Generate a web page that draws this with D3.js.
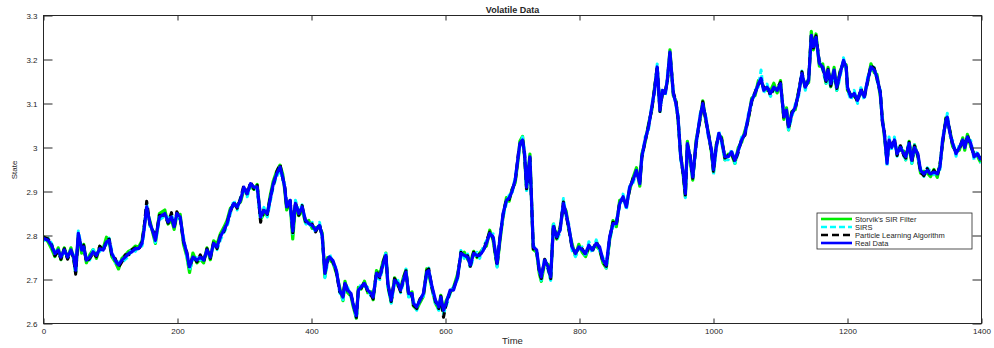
<!DOCTYPE html>
<html>
<head>
<meta charset="utf-8">
<script src="https://cdn.jsdelivr.net/npm/d3@7"></script>
<style>
  body { margin: 0; background: #fff; }
  text { font-family: 'Liberation Sans', Arial, sans-serif; fill: #262626; }
</style>
</head>
<body>
<div id="chart"></div>
<script>
// time steps (denser where the curve moves fast)
const time = [
  0, 7, 12, 17, 22, 26, 31, 36, 41, 45,
  48, 52, 57, 60, 64, 69, 74, 79, 84, 89,
  94, 98, 102, 107, 112, 117, 122, 127, 132, 137,
  142, 147, 150, 154, 159, 164, 167, 173, 181, 186,
  191, 195, 199, 204, 209, 214, 218, 223, 229, 234,
  239, 244, 249, 254, 259, 264, 269, 274, 279, 284,
  289, 294, 299, 304, 309, 314, 319, 324, 329, 334,
  338, 343, 348, 353, 357, 360, 363, 368, 372, 376,
  381, 386, 391, 396, 401, 406, 412, 416, 420, 424,
  427, 432, 437, 442, 447, 450, 454, 459, 462, 467,
  470, 474, 479, 484, 489, 492, 497, 502, 507, 511,
  514, 519, 524, 529, 533, 537, 541, 545, 550, 552,
  557, 562, 567, 572, 575, 580, 585, 590, 593, 597,
  601, 607, 612, 618, 623, 628, 633, 637, 642, 647,
  651, 656, 661, 666, 671, 677, 681, 686, 691, 695,
  699, 704, 709, 711, 715, 718, 721, 726, 731, 736,
  740, 743, 748, 753, 757, 761, 766, 771, 776, 780,
  784, 789, 794, 799, 804, 809, 814, 819, 825, 830,
  835, 840, 845, 850, 855, 860, 865, 870, 875, 880,
  885, 890, 893, 898, 903, 908, 912, 916, 920, 924,
  928, 931, 935, 940, 944, 947, 951, 955, 958, 961,
  965, 969, 974, 980, 984, 989, 992, 997, 1000, 1004,
  1008, 1012, 1017, 1022, 1027, 1032, 1037, 1042, 1047, 1052,
  1057, 1062, 1067, 1071, 1075, 1080, 1085, 1090, 1095, 1100,
  1105, 1109, 1112, 1117, 1122, 1127, 1132, 1137, 1142, 1146,
  1149, 1153, 1158, 1163, 1168, 1171, 1175, 1180, 1184, 1189,
  1194, 1198, 1200, 1205, 1210, 1215, 1220, 1225, 1230, 1235,
  1240, 1244, 1249, 1252, 1255, 1259, 1262, 1266, 1270, 1274,
  1279, 1284, 1287, 1292, 1296, 1300, 1305, 1309, 1314, 1319,
  1324, 1329, 1334, 1338, 1342, 1347, 1349, 1353, 1357, 1362,
  1367, 1372, 1375, 1379, 1384, 1389, 1394, 1399
];

const realData = [
  2.793, 2.789, 2.777, 2.759, 2.767, 2.751, 2.767, 2.751, 2.767, 2.751,
  2.721, 2.805, 2.767, 2.774, 2.744, 2.751, 2.763, 2.755, 2.770, 2.767,
  2.785, 2.789, 2.759, 2.744, 2.733, 2.744, 2.751, 2.759, 2.763, 2.770,
  2.770, 2.782, 2.812, 2.865, 2.827, 2.805, 2.789, 2.842, 2.850, 2.831,
  2.842, 2.820, 2.850, 2.842, 2.789, 2.759, 2.729, 2.751, 2.744, 2.751,
  2.744, 2.767, 2.751, 2.782, 2.774, 2.797, 2.812, 2.827, 2.857, 2.873,
  2.865, 2.880, 2.910, 2.895, 2.918, 2.910, 2.910, 2.842, 2.857, 2.850,
  2.880, 2.918, 2.940, 2.956, 2.933, 2.910, 2.865, 2.880, 2.810, 2.873,
  2.850, 2.865, 2.835, 2.827, 2.823, 2.812, 2.823, 2.800, 2.714, 2.745,
  2.751, 2.743, 2.721, 2.676, 2.660, 2.691, 2.676, 2.668, 2.645, 2.618,
  2.676, 2.683, 2.691, 2.676, 2.668, 2.660, 2.714, 2.707, 2.736, 2.755,
  2.691, 2.653, 2.698, 2.691, 2.676, 2.698, 2.717, 2.668, 2.668, 2.646,
  2.638, 2.653, 2.668, 2.717, 2.720, 2.683, 2.653, 2.638, 2.660, 2.630,
  2.646, 2.676, 2.676, 2.706, 2.759, 2.755, 2.751, 2.733, 2.759, 2.755,
  2.755, 2.765, 2.782, 2.805, 2.797, 2.736, 2.790, 2.850, 2.880, 2.885,
  2.899, 2.926, 2.986, 3.009, 3.017, 2.986, 2.910, 2.979, 2.774, 2.767,
  2.721, 2.706, 2.744, 2.729, 2.706, 2.820, 2.797, 2.812, 2.873, 2.850,
  2.820, 2.774, 2.759, 2.774, 2.767, 2.759, 2.778, 2.767, 2.782, 2.774,
  2.744, 2.733, 2.797, 2.827, 2.827, 2.873, 2.888, 2.865, 2.910, 2.926,
  2.948, 2.918, 2.979, 3.017, 3.047, 3.092, 3.130, 3.183, 3.085, 3.130,
  3.123, 3.153, 3.217, 3.123, 3.100, 3.070, 2.979, 2.940, 2.895, 3.009,
  2.979, 2.933, 3.010, 3.070, 3.100, 3.062, 3.032, 2.994, 2.950, 3.000,
  3.032, 3.017, 2.979, 2.979, 2.990, 2.971, 2.994, 3.017, 3.032, 3.070,
  3.107, 3.123, 3.145, 3.157, 3.130, 3.137, 3.123, 3.137, 3.130, 3.145,
  3.070, 3.085, 3.047, 3.077, 3.092, 3.123, 3.168, 3.137, 3.153, 3.255,
  3.229, 3.250, 3.191, 3.183, 3.153, 3.176, 3.145, 3.176, 3.137, 3.168,
  3.198, 3.183, 3.137, 3.115, 3.123, 3.107, 3.130, 3.115, 3.153, 3.183,
  3.176, 3.160, 3.123, 3.062, 3.032, 2.964, 3.017, 3.000, 3.017, 2.986,
  3.000, 2.986, 2.979, 3.009, 2.971, 3.000, 2.986, 2.948, 2.940, 2.948,
  2.940, 2.944, 2.940, 2.956, 3.017, 3.062, 3.069, 3.032, 3.009, 2.986,
  3.000, 3.017, 3.000, 3.024, 3.009, 2.979, 2.986, 2.971
];

const storvik = [
  2.798, 2.785, 2.770, 2.752, 2.772, 2.745, 2.772, 2.748, 2.772, 2.746,
  2.716, 2.800, 2.760, 2.780, 2.738, 2.756, 2.768, 2.748, 2.775, 2.770,
  2.796, 2.786, 2.752, 2.740, 2.724, 2.748, 2.755, 2.764, 2.768, 2.776,
  2.774, 2.788, 2.818, 2.858, 2.832, 2.800, 2.782, 2.850, 2.858, 2.826,
  2.836, 2.814, 2.846, 2.848, 2.780, 2.752, 2.716, 2.760, 2.738, 2.746,
  2.738, 2.772, 2.745, 2.788, 2.780, 2.804, 2.818, 2.834, 2.862, 2.868,
  2.870, 2.876, 2.904, 2.900, 2.912, 2.905, 2.916, 2.836, 2.850, 2.846,
  2.888, 2.924, 2.946, 2.960, 2.940, 2.904, 2.858, 2.876, 2.792, 2.868,
  2.845, 2.858, 2.830, 2.834, 2.816, 2.818, 2.818, 2.806, 2.706, 2.750,
  2.745, 2.738, 2.715, 2.682, 2.652, 2.696, 2.670, 2.662, 2.640, 2.612,
  2.682, 2.678, 2.696, 2.670, 2.672, 2.654, 2.720, 2.712, 2.742, 2.760,
  2.685, 2.648, 2.704, 2.686, 2.680, 2.704, 2.722, 2.662, 2.672, 2.640,
  2.632, 2.648, 2.662, 2.724, 2.712, 2.678, 2.646, 2.632, 2.664, 2.626,
  2.652, 2.670, 2.682, 2.712, 2.754, 2.762, 2.746, 2.738, 2.764, 2.750,
  2.760, 2.770, 2.776, 2.812, 2.790, 2.730, 2.784, 2.845, 2.886, 2.878,
  2.904, 2.920, 2.980, 3.014, 3.025, 2.980, 2.904, 2.985, 2.768, 2.762,
  2.714, 2.696, 2.738, 2.734, 2.700, 2.826, 2.792, 2.818, 2.866, 2.856,
  2.814, 2.780, 2.754, 2.780, 2.762, 2.752, 2.772, 2.772, 2.776, 2.768,
  2.738, 2.726, 2.790, 2.834, 2.820, 2.880, 2.882, 2.872, 2.904, 2.932,
  2.954, 2.912, 2.985, 3.012, 3.053, 3.086, 3.136, 3.178, 3.092, 3.124,
  3.130, 3.148, 3.222, 3.118, 3.106, 3.064, 2.985, 2.934, 2.888, 3.014,
  2.972, 2.926, 3.016, 3.064, 3.106, 3.056, 3.038, 2.988, 2.944, 3.006,
  3.026, 3.024, 2.972, 2.985, 2.984, 2.964, 3.000, 3.012, 3.038, 3.064,
  3.112, 3.118, 3.152, 3.150, 3.136, 3.130, 3.128, 3.146, 3.124, 3.152,
  3.064, 3.090, 3.040, 3.082, 3.086, 3.128, 3.162, 3.142, 3.148, 3.264,
  3.222, 3.258, 3.185, 3.190, 3.146, 3.182, 3.138, 3.182, 3.130, 3.174,
  3.192, 3.188, 3.130, 3.120, 3.116, 3.112, 3.124, 3.120, 3.148, 3.190,
  3.170, 3.166, 3.116, 3.068, 3.026, 2.970, 3.010, 3.006, 3.010, 2.992,
  2.994, 2.992, 2.972, 3.014, 2.964, 3.006, 2.980, 2.942, 2.946, 2.942,
  2.934, 2.950, 2.932, 2.962, 3.010, 3.068, 3.062, 3.038, 3.002, 2.992,
  2.994, 3.022, 2.994, 3.030, 3.002, 2.985, 2.980, 2.965
];

const sirs = [
  2.788, 2.794, 2.782, 2.764, 2.760, 2.756, 2.760, 2.756, 2.760, 2.756,
  2.712, 2.810, 2.772, 2.766, 2.750, 2.744, 2.768, 2.760, 2.764, 2.774,
  2.780, 2.794, 2.764, 2.738, 2.740, 2.738, 2.746, 2.752, 2.770, 2.764,
  2.776, 2.776, 2.806, 2.872, 2.820, 2.810, 2.784, 2.836, 2.844, 2.838,
  2.848, 2.826, 2.842, 2.836, 2.796, 2.752, 2.722, 2.744, 2.750, 2.744,
  2.750, 2.760, 2.758, 2.776, 2.768, 2.790, 2.806, 2.820, 2.850, 2.880,
  2.858, 2.886, 2.902, 2.888, 2.912, 2.916, 2.902, 2.836, 2.864, 2.842,
  2.874, 2.912, 2.934, 2.950, 2.926, 2.916, 2.872, 2.874, 2.804, 2.880,
  2.856, 2.870, 2.828, 2.820, 2.830, 2.806, 2.830, 2.794, 2.704, 2.738,
  2.758, 2.736, 2.726, 2.670, 2.654, 2.684, 2.682, 2.660, 2.652, 2.610,
  2.670, 2.690, 2.684, 2.682, 2.660, 2.666, 2.706, 2.700, 2.730, 2.762,
  2.684, 2.646, 2.692, 2.698, 2.670, 2.692, 2.724, 2.660, 2.662, 2.652,
  2.630, 2.660, 2.662, 2.710, 2.726, 2.676, 2.646, 2.630, 2.654, 2.622,
  2.640, 2.668, 2.684, 2.700, 2.766, 2.748, 2.758, 2.726, 2.752, 2.762,
  2.748, 2.772, 2.788, 2.798, 2.804, 2.728, 2.796, 2.842, 2.874, 2.892,
  2.892, 2.932, 2.980, 3.002, 3.024, 2.992, 2.902, 2.972, 2.780, 2.760,
  2.728, 2.698, 2.750, 2.722, 2.698, 2.830, 2.790, 2.806, 2.884, 2.844,
  2.826, 2.766, 2.752, 2.768, 2.774, 2.752, 2.786, 2.760, 2.790, 2.766,
  2.750, 2.726, 2.790, 2.820, 2.834, 2.866, 2.894, 2.858, 2.916, 2.920,
  2.942, 2.924, 2.972, 3.024, 3.040, 3.098, 3.124, 3.190, 3.078, 3.136,
  3.116, 3.160, 3.210, 3.130, 3.094, 3.076, 2.972, 2.946, 2.886, 3.002,
  2.986, 2.926, 3.004, 3.076, 3.094, 3.068, 3.026, 3.000, 2.938, 2.994,
  3.038, 3.010, 2.972, 2.972, 2.996, 2.964, 2.988, 3.024, 3.026, 3.076,
  3.100, 3.130, 3.138, 3.176, 3.124, 3.144, 3.116, 3.130, 3.138, 3.138,
  3.076, 3.078, 3.040, 3.070, 3.098, 3.116, 3.174, 3.130, 3.160, 3.248,
  3.236, 3.242, 3.198, 3.176, 3.146, 3.168, 3.136, 3.170, 3.130, 3.160,
  3.204, 3.176, 3.130, 3.108, 3.130, 3.100, 3.136, 3.108, 3.160, 3.176,
  3.182, 3.152, 3.130, 3.056, 3.038, 2.956, 3.024, 2.994, 3.024, 2.980,
  3.008, 2.980, 2.972, 3.016, 2.964, 3.006, 2.978, 2.952, 2.934, 2.954,
  2.946, 2.938, 2.946, 2.950, 3.024, 3.056, 3.078, 3.026, 3.016, 2.980,
  3.006, 3.010, 3.006, 3.018, 3.016, 2.972, 2.992, 2.964
];

const particleLearning = [
  2.796, 2.792, 2.780, 2.754, 2.764, 2.746, 2.770, 2.746, 2.764, 2.748,
  2.712, 2.798, 2.770, 2.778, 2.740, 2.748, 2.760, 2.752, 2.776, 2.764,
  2.788, 2.792, 2.754, 2.748, 2.728, 2.740, 2.756, 2.756, 2.768, 2.772,
  2.766, 2.786, 2.816, 2.878, 2.824, 2.808, 2.792, 2.846, 2.846, 2.828,
  2.852, 2.816, 2.854, 2.838, 2.786, 2.762, 2.726, 2.754, 2.740, 2.756,
  2.740, 2.770, 2.748, 2.786, 2.770, 2.800, 2.808, 2.830, 2.854, 2.876,
  2.862, 2.884, 2.914, 2.892, 2.922, 2.906, 2.914, 2.830, 2.860, 2.848,
  2.884, 2.914, 2.944, 2.962, 2.930, 2.914, 2.862, 2.884, 2.806, 2.876,
  2.846, 2.868, 2.832, 2.824, 2.826, 2.808, 2.826, 2.796, 2.718, 2.742,
  2.754, 2.740, 2.718, 2.672, 2.664, 2.694, 2.672, 2.664, 2.648, 2.614,
  2.680, 2.680, 2.694, 2.672, 2.664, 2.656, 2.718, 2.704, 2.740, 2.758,
  2.688, 2.650, 2.702, 2.688, 2.672, 2.702, 2.720, 2.664, 2.664, 2.642,
  2.634, 2.656, 2.664, 2.720, 2.724, 2.680, 2.650, 2.634, 2.662, 2.614,
  2.644, 2.672, 2.680, 2.704, 2.762, 2.752, 2.754, 2.730, 2.762, 2.752,
  2.758, 2.762, 2.786, 2.808, 2.794, 2.732, 2.792, 2.848, 2.884, 2.882,
  2.902, 2.922, 2.990, 3.006, 3.020, 2.982, 2.906, 2.976, 2.770, 2.764,
  2.718, 2.702, 2.746, 2.726, 2.702, 2.824, 2.794, 2.816, 2.876, 2.846,
  2.816, 2.770, 2.762, 2.770, 2.770, 2.756, 2.774, 2.764, 2.786, 2.770,
  2.740, 2.730, 2.794, 2.830, 2.824, 2.876, 2.884, 2.868, 2.906, 2.930,
  2.944, 2.922, 2.976, 3.014, 3.050, 3.088, 3.134, 3.186, 3.082, 3.126,
  3.126, 3.150, 3.214, 3.126, 3.104, 3.066, 2.982, 2.936, 2.892, 3.006,
  2.982, 2.930, 3.006, 3.066, 3.104, 3.058, 3.036, 2.990, 2.946, 3.004,
  3.028, 3.020, 2.976, 2.982, 2.986, 2.968, 2.990, 3.020, 3.028, 3.066,
  3.104, 3.126, 3.142, 3.154, 3.134, 3.140, 3.118, 3.134, 3.134, 3.148,
  3.066, 3.082, 3.044, 3.080, 3.088, 3.126, 3.172, 3.134, 3.156, 3.258,
  3.226, 3.254, 3.194, 3.180, 3.150, 3.178, 3.140, 3.172, 3.134, 3.172,
  3.194, 3.186, 3.134, 3.118, 3.120, 3.104, 3.134, 3.112, 3.150, 3.186,
  3.180, 3.156, 3.126, 3.058, 3.036, 2.968, 3.014, 3.004, 3.020, 2.982,
  3.004, 2.982, 2.976, 3.012, 2.966, 3.004, 2.982, 2.944, 2.936, 2.952,
  2.936, 2.948, 2.936, 2.960, 3.012, 3.066, 3.064, 3.036, 3.004, 2.990,
  2.996, 3.020, 2.998, 3.028, 3.004, 2.982, 2.984, 2.974
];

const seriesNames = ["Storvik's SIR Filter", 'SIRS', 'Particle Learning Algorithm', 'Real Data'];
const xTicks = [0, 200, 400, 600, 800, 1000, 1200, 1400];
const yTicks = [2.6, 2.7, 2.8, 2.9, 3, 3.1, 3.2, 3.3];

const width = 994, height = 348;
const box = { left: 43.5, right: 981.5, top: 15.5, bottom: 323.5 };

const x = d3.scaleLinear().domain([0, 1400]).range([box.left, box.right]);
const y = d3.scaleLinear().domain([2.6, 3.3]).range([box.bottom, box.top]);

const svg = d3.select('#chart').append('svg')
  .attr('width', width)
  .attr('height', height);

svg.append('clipPath').attr('id', 'plotclip')
  .append('rect')
  .attr('x', box.left).attr('y', box.top)
  .attr('width', box.right - box.left).attr('height', box.bottom - box.top);

// line styles, same order as seriesNames
const styles = [
  { values: storvik, color: '#00ee00', width: 3.2, dash: null },
  { values: sirs, color: '#00ffff', width: 3, dash: '6,3' },
  { values: particleLearning, color: '#000000', width: 3, dash: '7,4' },
  { values: realData, color: '#0000ff', width: 3.2, dash: null }
];

const plot = svg.append('g').attr('clip-path', 'url(#plotclip)');

styles.forEach(function (s) {
  const line = d3.line()
    .x(function (d, i) { return x(time[i]); })
    .y(function (d) { return y(d); });
  plot.append('path')
    .datum(s.values)
    .attr('fill', 'none')
    .attr('stroke', s.color)
    .attr('stroke-width', s.width)
    .attr('stroke-dasharray', s.dash)
    .attr('stroke-linejoin', 'round')
    .attr('d', line);
});

// axes, MATLAB style: ticks inside on all four sides
const axisColor = '#262626';

const xAxis = svg.append('g')
  .attr('transform', 'translate(0,' + box.bottom + ')')
  .call(d3.axisBottom(x).tickValues(xTicks).tickSizeInner(-5).tickSizeOuter(0).tickPadding(5)
    .tickFormat(function (d) { return String(d); }));
const xTop = svg.append('g')
  .attr('transform', 'translate(0,' + box.top + ')')
  .call(d3.axisTop(x).tickValues(xTicks).tickSizeInner(-5).tickSizeOuter(0).tickFormat(''));
const yAxis = svg.append('g')
  .attr('transform', 'translate(' + box.left + ',0)')
  .call(d3.axisLeft(y).tickValues(yTicks).tickSizeInner(-9).tickSizeOuter(0).tickPadding(6)
    .tickFormat(function (d) { return String(d); }));
const yRight = svg.append('g')
  .attr('transform', 'translate(' + box.right + ',0)')
  .call(d3.axisRight(y).tickValues(yTicks).tickSizeInner(-9).tickSizeOuter(0).tickFormat(''));

[xAxis, xTop, yAxis, yRight].forEach(function (a) {
  a.select('.domain').remove();
  a.selectAll('line').attr('stroke', axisColor);
  a.selectAll('text')
    .attr('font-size', 8)
    .attr('font-family', "'Liberation Sans', Arial, sans-serif")
    .attr('fill', axisColor);
});

svg.append('rect')
  .attr('x', box.left).attr('y', box.top)
  .attr('width', box.right - box.left).attr('height', box.bottom - box.top)
  .attr('fill', 'none')
  .attr('stroke', axisColor)
  .attr('stroke-width', 1);

svg.append('text')
  .attr('x', (box.left + box.right) / 2)
  .attr('y', 13)
  .attr('text-anchor', 'middle')
  .attr('font-size', 9)
  .attr('font-weight', 'bold')
  .text('Volatile Data');

svg.append('text')
  .attr('x', (box.left + box.right) / 2)
  .attr('y', 344)
  .attr('text-anchor', 'middle')
  .attr('font-size', 9.5)
  .text('Time');

svg.append('text')
  .attr('transform', 'translate(17,170) rotate(-90)')
  .attr('text-anchor', 'middle')
  .attr('font-size', 8)
  .text('State');

// legend
const legend = svg.append('g').attr('transform', 'translate(817,213)');
legend.append('rect')
  .attr('width', 155).attr('height', 36)
  .attr('fill', '#fff')
  .attr('stroke', axisColor)
  .attr('stroke-width', 0.8);

styles.forEach(function (s, i) {
  const row = legend.append('g').attr('transform', 'translate(0,' + (6 + i * 8) + ')');
  row.append('line')
    .attr('x1', 4).attr('x2', 35)
    .attr('stroke', s.color)
    .attr('stroke-width', 2.6)
    .attr('stroke-dasharray', s.dash);
  row.append('text')
    .attr('x', 38)
    .attr('dy', '0.35em')
    .attr('font-size', 7.5)
    .text(seriesNames[i]);
});
</script>
</body>
</html>
